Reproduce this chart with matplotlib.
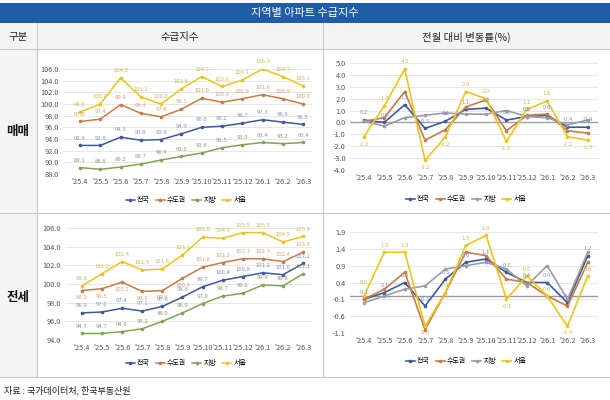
import matplotlib
matplotlib.use("Agg")
import matplotlib.pyplot as plt
from matplotlib.patches import Rectangle
from matplotlib.lines import Line2D

plt.rcParams['font.family'] = ['Noto Sans CJK KR', 'DejaVu Sans']

months = ["'25.4", "'25.5", "'25.6", "'25.7", "'25.8", "'25.9", "'25.10",
          "'25.11", "'25.12", "'26.1", "'26.2", "'26.3"]
series_names = ["전국", "수도권", "지방", "서울"]

# 매매 수급지수
sale_nation = [92.9, 92.9, 94.3, 93.8, 93.9, 94.9, 96.0, 96.2, 96.7, 97.3, 96.9, 96.5]
sale_capital = [97.0, 97.4, 99.9, 98.4, 97.8, 99.1, 101.0, 100.3, 100.9, 101.6, 100.9, 100.0]
sale_local = [89.1, 88.8, 89.2, 89.7, 90.4, 91.0, 91.6, 92.5, 93.0, 93.4, 93.2, 93.4]
sale_seoul = [98.6, 100.0, 104.5, 101.2, 100.0, 102.6, 104.7, 103.0, 104.1, 106.0, 104.7, 103.1]

# 전세 수급지수
rent_nation = [96.9, 97.0, 97.4, 97.1, 97.6, 98.6, 99.7, 100.4, 100.8, 101.2, 101.0, 102.2]
rent_capital = [99.3, 99.5, 100.2, 99.2, 99.3, 100.6, 101.8, 102.3, 102.7, 102.7, 102.4, 103.4]
rent_local = [94.7, 94.7, 94.9, 95.2, 96.0, 96.9, 97.9, 98.7, 99.0, 99.9, 99.8, 101.1]
rent_seoul = [99.8, 101.1, 102.4, 101.5, 101.6, 103.1, 105.0, 104.9, 105.5, 105.5, 104.5, 105.1]

# 매매 전월 대비 변동률(%)
sale_chg_nation = [0.2, 0.0, 1.5, -0.5, 0.1, 1.1, 1.2, 0.2, 0.5, 0.6, -0.4, -0.4]
sale_chg_capital = [0.1, 0.4, 2.6, -1.5, -0.6, 1.3, 1.9, -0.7, 0.6, 0.7, -0.7, -0.9]
sale_chg_local = [0.1, -0.3, 0.4, 0.6, 0.8, 0.7, 0.7, 1.0, 0.5, 0.4, -0.2, 0.2]
sale_chg_seoul = [-1.2, 1.4, 4.5, -3.2, -1.2, 2.6, 2.0, -1.6, 1.1, 1.8, -1.2, -1.5]

# 전세 전월 대비 변동률(%)
rent_chg_nation = [-0.1, 0.1, 0.4, -0.3, 0.5, 1.0, 1.1, 0.7, 0.4, 0.4, -0.2, 1.2]
rent_chg_capital = [-0.1, 0.2, 0.7, -1.0, 0.1, 1.3, 1.2, 0.5, 0.4, 0.0, -0.3, 1.0]
rent_chg_local = [-0.2, 0.0, 0.2, 0.3, 0.8, 0.9, 1.0, 0.8, 0.3, 0.9, -0.1, 1.3]
rent_chg_seoul = [0.0, 1.3, 1.3, -0.9, 0.1, 1.5, 1.8, -0.1, 0.6, 0.0, -0.9, 0.6]

C_NAT = '#3C5A9C'
C_CAP = '#C97B45'
C_LOC_G = '#7FA656'
C_LOC_GR = '#9A9CA8'
C_SEO = '#EBC51E'
L_NAT = '#8494C4'
L_CAP = '#D9A27A'
L_LOC = '#8E9A72'
L_SEO = '#D2B850'

W, H = 610, 400
fig = plt.figure(figsize=(W / 100, H / 100), dpi=100)

def fx(px):
    return px / W

def fy(py):
    return 1 - py / H

def frect(x0, y0, x1, y1, **kw):
    fig.patches.append(Rectangle((fx(x0), fy(y1)), fx(x1) - fx(x0), fy(y0) - fy(y1),
                                 transform=fig.transFigure, **kw))

def fline(x0, y0, x1, y1, color='#C8C8C8', lw=0.8):
    fig.lines.append(Line2D([fx(x0), fx(x1)], [fy(y0), fy(y1)], transform=fig.transFigure,
                            color=color, lw=lw))

# table backgrounds
frect(0, 3, 610, 23, facecolor='#1F5DA8', edgecolor='none')
frect(0, 23, 610, 49, facecolor='#F4F4F4', edgecolor='none')
frect(0, 49, 37, 377, facecolor='#F4F4F4', edgecolor='none')
# borders
fline(0, 49, 610, 49)
fline(37, 213, 610, 213)
fline(0, 213, 37, 213)
fline(0, 377, 610, 377)
fline(37, 23, 37, 377)
fline(323, 23, 323, 377)

fig.text(fx(305), fy(13), "지역별 아파트 수급지수", color='white', fontsize=8, ha='center', va='center')
fig.text(fx(18), fy(37), "구분", fontsize=7.5, ha='center', va='center', color='#222222')
fig.text(fx(180), fy(37), "수급지수", fontsize=7.5, ha='center', va='center', color='#222222')
fig.text(fx(466), fy(37), "전월 대비 변동률(%)", fontsize=7.5, ha='center', va='center', color='#222222')
fig.text(fx(18), fy(132), "매매", fontsize=9, ha='center', va='center', color='#111111', fontweight='bold')
fig.text(fx(18), fy(297), "전세", fontsize=9, ha='center', va='center', color='#111111', fontweight='bold')
fig.text(fx(4), fy(390), "자료 : 국가데이터처, 한국부동산원", fontsize=6.5, ha='left', va='center', color='#222222')

x = list(range(len(months)))

def make_ax(l, r, t, b, xl, yl, yticks, fmt):
    ax = fig.add_axes([fx(l), fy(b), fx(r) - fx(l), fy(t) - fy(b)])
    ax.set_xlim(*xl)
    ax.set_ylim(*yl)
    ax.set_yticks(yticks)
    ax.set_yticklabels([fmt.format(v) for v in yticks])
    ax.set_xticks(x)
    ax.set_xticklabels(months)
    for s in ax.spines.values():
        s.set_visible(False)
    ax.tick_params(length=0, labelsize=5.3, colors='#555555', pad=3)
    ax.grid(axis='y', color='#E3E3E3', lw=0.6)
    ax.set_axisbelow(True)
    return ax

def plot_series(ax, data, colors, lw=1.1):
    hs = []
    for d, c, n in zip(data, colors, series_names):
        h, = ax.plot(x, d, color=c, lw=lw, marker='o', ms=1.6, label=n, zorder=3)
        hs.append(h)
    return hs

def labels(ax, vals, color, pos, dy=3.5, extra=None):
    for i, v in enumerate(vals):
        p = pos[i] if isinstance(pos, list) else pos
        d = dy + (extra.get(i, 0) if extra else 0)
        off = d if p == 'a' else -d
        ax.annotate(f"{v:.1f}", (i, v), xytext=(0, off), textcoords='offset points',
                    ha='center', va='bottom' if p == 'a' else 'top', fontsize=4.3, color=color, zorder=4)

def legend(hs, cx, cy):
    fig.legend(hs, series_names, loc='center', bbox_to_anchor=(fx(cx), fy(cy)), ncol=4, frameon=False,
               fontsize=5, handlelength=1.3, columnspacing=0.9, handletextpad=0.3, borderpad=0)

# Top-left: 매매 수급지수
ax = make_ax(63, 312, 69, 174, (-0.84, 11.44), (88, 106), [88 + 2 * i for i in range(10)], "{:.1f}")
hs = plot_series(ax, [sale_nation, sale_capital, sale_local, sale_seoul], [C_NAT, C_CAP, C_LOC_G, C_SEO])
labels(ax, sale_seoul, L_SEO, 'a')
labels(ax, sale_capital, L_CAP, 'a')
labels(ax, sale_nation, L_NAT, 'a')
labels(ax, sale_local, L_LOC, 'a')
legend(hs, 186, 200)

# Bottom-left: 전세 수급지수
ax = make_ax(65, 312, 228, 340, (-0.84, 11.44), (94, 106), [94 + 2 * i for i in range(7)], "{:.1f}")
hs = plot_series(ax, [rent_nation, rent_capital, rent_local, rent_seoul], [C_NAT, C_CAP, C_LOC_G, C_SEO])
labels(ax, rent_seoul, L_SEO, 'a')
labels(ax, rent_capital, L_CAP, ['b'] * 6 + ['a'] * 6)
labels(ax, rent_nation, L_NAT, 'a')
labels(ax, rent_local, L_LOC, 'a')
legend(hs, 186, 363)

# Top-right: 매매 변동률
ax = make_ax(350, 598, 63, 170, (-0.69, 11.5), (-4, 5), list(range(-4, 6)), "{:.1f}")
ax.axhline(0, color='#A0A0A0', lw=1.0, zorder=2)
hs = plot_series(ax, [sale_chg_nation, sale_chg_capital, sale_chg_local, sale_chg_seoul],
                 [C_NAT, C_CAP, C_LOC_GR, C_SEO], lw=1.2)
labels(ax, sale_chg_nation, L_NAT, 'a')
labels(ax, sale_chg_seoul, L_SEO, ['a' if v >= 0 else 'b' for v in sale_chg_seoul])
legend(hs, 466, 199)

# Bottom-right: 전세 변동률
ax = make_ax(350, 598, 232, 333, (-0.69, 11.5), (-1.1, 1.9), [-1.1 + 0.5 * i for i in range(7)], "{:.1f}")
ax.axhline(0, color='#9A9A9A', lw=1.0, zorder=2)
hs = plot_series(ax, [rent_chg_nation, rent_chg_capital, rent_chg_local, rent_chg_seoul],
                 [C_NAT, C_CAP, C_LOC_GR, C_SEO], lw=1.2)
labels(ax, rent_chg_nation, L_NAT, 'a', dy=3)
labels(ax, rent_chg_seoul, L_SEO, ['a' if v >= 0 else 'b' for v in rent_chg_seoul], dy=3,
       extra={0: 5})
legend(hs, 466, 361)

fig.savefig("out.png", dpi=100, facecolor='white')
